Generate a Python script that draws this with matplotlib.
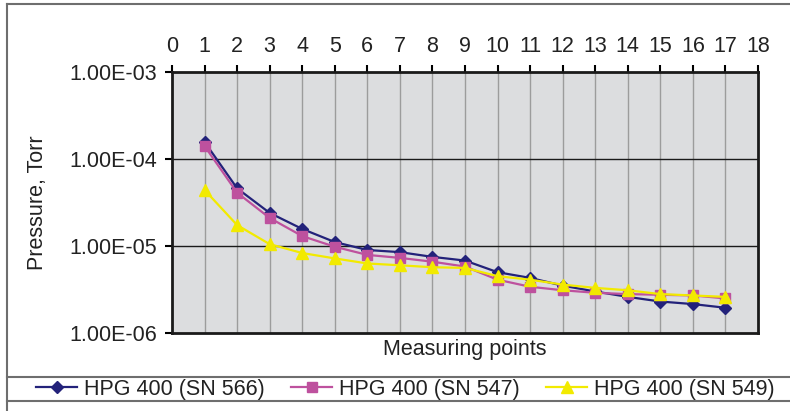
import matplotlib
matplotlib.use("Agg")
import matplotlib.pyplot as plt
from matplotlib.ticker import FuncFormatter, NullLocator, FixedLocator
from matplotlib.lines import Line2D

plt.rcParams['font.family'] = ['Liberation Sans', 'DejaVu Sans']

# measuring points and pressures (Torr)
points = list(range(1, 18))
sn566 = [1.57e-4, 4.6e-5, 2.4e-5, 1.57e-5, 1.11e-5, 9.0e-6, 8.5e-6, 7.5e-6, 6.8e-6,
         5.0e-6, 4.3e-6, 3.5e-6, 3.0e-6, 2.6e-6, 2.3e-6, 2.15e-6, 1.95e-6]
sn547 = [1.41e-4, 4.1e-5, 2.1e-5, 1.30e-5, 9.8e-6, 7.9e-6, 7.3e-6, 6.6e-6, 5.8e-6,
         4.1e-6, 3.4e-6, 3.1e-6, 2.9e-6, 2.8e-6, 2.75e-6, 2.7e-6, 2.5e-6]
sn549 = [4.4e-5, 1.74e-5, 1.05e-5, 8.3e-6, 7.2e-6, 6.3e-6, 6.0e-6, 5.7e-6, 5.6e-6,
         4.5e-6, 4.1e-6, 3.6e-6, 3.3e-6, 3.1e-6, 2.8e-6, 2.7e-6, 2.6e-6]
labels = ['HPG 400 (SN 566)', 'HPG 400 (SN 547)', 'HPG 400 (SN 549)']

fig = plt.figure(figsize=(7.9, 4.11), dpi=100)
ax = fig.add_axes([172/790, 1-333/411, (758-172)/790, (333-72)/411])
ax.set_facecolor('#DCDDDF')

fs = 15.5
ax.plot(points, sn566, color='#23227A', marker='D', markersize=6, lw=1.6, label=labels[0], zorder=3)
ax.plot(points, sn547, color='#BE519E', marker='s', markersize=7.5, lw=1.6, label=labels[1], zorder=4)
ax.plot(points, sn549, color='#F2EA00', marker='^', markersize=8, lw=1.6, label=labels[2], zorder=5)

ax.set_yscale('log')
ax.set_ylim(1e-6, 1e-3)
ax.set_xlim(0, 18)
ax.xaxis.set_major_locator(FixedLocator(range(0, 19)))
ax.yaxis.set_major_locator(FixedLocator([1e-6, 1e-5, 1e-4, 1e-3]))
ax.yaxis.set_minor_locator(NullLocator())
ax.yaxis.set_major_formatter(FuncFormatter(lambda v, p: f"{v:.2E}"))
ax.xaxis.tick_top()
ax.tick_params(axis='x', direction='out', length=5, width=1.5, pad=6, labelsize=fs, colors='black')
ax.tick_params(axis='y', direction='out', length=5, width=1.5, pad=6, labelsize=fs)
ax.tick_params(axis='x', labelcolor='#222222')
ax.tick_params(axis='y', labelcolor='#222222')

for x in range(1, 18):
    ax.axvline(x, color='#9C9C9C', lw=1, zorder=1)
for y in [1e-5, 1e-4]:
    ax.axhline(y, color='#1A1A1A', lw=1, zorder=1)
for s in ax.spines.values():
    s.set_linewidth(2)
    s.set_color('#1A1A1A')

ax.set_xlabel('Measuring points', fontsize=fs, color='#222222', labelpad=4)
ax.set_ylabel('Pressure, Torr', fontsize=fs, color='#222222')
ax.yaxis.set_label_coords((48-172)/586, 0.5)

fig.legend(loc='center', bbox_to_anchor=(0.513, 1-389/411), ncol=3, frameon=False,
           fontsize=fs, handlelength=1.9, handletextpad=0.3, columnspacing=1.25,
           labelcolor='#222222')

# outer frame and legend box lines
grey = '#6E6E6E'
fig.add_artist(Line2D([7/790, 1], [1-4/411, 1-4/411], color=grey, lw=1.5))
fig.add_artist(Line2D([7/790, 7/790], [0, 1-4/411], color=grey, lw=1.5))
fig.add_artist(Line2D([7/790, 1], [1-377/411, 1-377/411], color=grey, lw=1.5))
fig.add_artist(Line2D([7/790, 1], [1-401/411, 1-401/411], color=grey, lw=1.5))

fig.savefig('out.png', dpi=100)
